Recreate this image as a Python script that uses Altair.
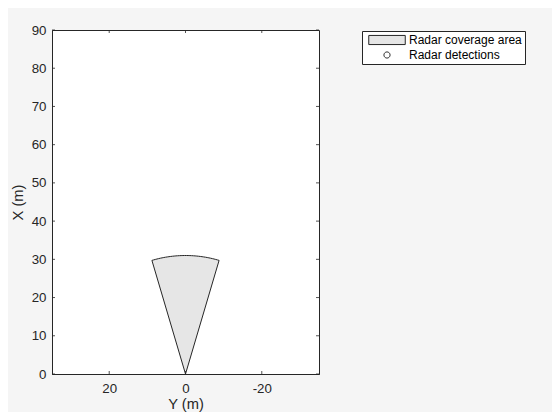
import altair as alt
import numpy as np
import pandas as pd

# Radar coverage parameters
radar_range = 31.0          # m
radar_half_fov_deg = 16.5   # deg
arc_points = 40

# Radar detections (none visible)
det_x = []
det_y = []

legend_names = ["Radar coverage area", "Radar detections"]

y_tick_values = [0, 10, 20, 30, 40, 50, 60, 70, 80, 90]
x_tick_values = [-20, 0, 20]

# build wedge polygon from range / field of view
ang = np.radians(np.linspace(radar_half_fov_deg, -radar_half_fov_deg, arc_points))
wedge_Y = [0.0] + list(radar_range * np.sin(ang)) + [0.0]
wedge_X = [0.0] + list(radar_range * np.cos(ang)) + [0.0]
wedge = pd.DataFrame({"Y": wedge_Y, "X": wedge_X, "i": range(len(wedge_Y))})

W, H = 267, 344
FONT = "Liberation Sans"
INK = "#262626"

xscale = alt.Scale(domain=[-35, 35], reverse=True, nice=False, zero=False)
yscale = alt.Scale(domain=[0, 90], nice=False)

xaxis = alt.Axis(values=x_tick_values, title="Y (m)", labelPadding=7, titlePadding=2,
                 labelOverlap=False, labelExpr="replace(datum.label, '\u2212', '-')")
yaxis = alt.Axis(values=y_tick_values, title="X (m)", labelPadding=6, titlePadding=6,
                 labelOverlap=False)

wedge_layer = alt.Chart(wedge).mark_line(
    fill="#e6e6e6", stroke=INK, strokeWidth=1
).encode(
    x=alt.X("Y:Q", scale=xscale, axis=xaxis),
    y=alt.Y("X:Q", scale=yscale, axis=yaxis),
    order="i:Q",
)

leg = alt.Legend(title=None, symbolStrokeWidth=1,
                 symbolOpacity=1, symbolOffset=16, labelOffset=16)

det_df = pd.DataFrame({"Y": det_y, "X": det_x, "name": [legend_names[1]] * len(det_x)})
det_layer = alt.Chart(alt.Data(values=det_df.to_dict("records"))).mark_point(
    strokeWidth=1, filled=True, opacity=1
).encode(
    x=alt.X("Y:Q", scale=xscale, axis=xaxis),
    y=alt.Y("X:Q", scale=yscale, axis=yaxis),
    shape=alt.Shape(
        "name:N",
        scale=alt.Scale(
            domain=legend_names,
            range=["M-3.65,-0.91H3.65V0.91H-3.65Z",
                   "M0.62,0A0.62,0.62,0,1,1,-0.62,0A0.62,0.62,0,1,1,0.62,0Z"],
        ),
        legend=leg,
    ),
    fill=alt.Fill(
        "name:N",
        scale=alt.Scale(domain=legend_names, range=["#e6e6e6", "#ffffff"]),
        legend=leg,
    ),
    stroke=alt.Stroke(
        "name:N",
        scale=alt.Scale(domain=legend_names, range=[INK, "#333333"]),
        legend=leg,
    ),
)

yt = pd.DataFrame({"v": y_tick_values})
xt = pd.DataFrame({"v": x_tick_values})
tk = 3
ticks_left = alt.Chart(yt).mark_rule(color=INK, strokeWidth=0.8).encode(
    y=alt.Y("v:Q", scale=yscale, axis=yaxis), x=alt.value(0), x2=alt.value(tk))
ticks_right = alt.Chart(yt).mark_rule(color=INK, strokeWidth=0.8).encode(
    y=alt.Y("v:Q", scale=yscale, axis=yaxis), x=alt.value(W - tk), x2=alt.value(W))
ticks_bottom = alt.Chart(xt).mark_rule(color=INK, strokeWidth=0.8).encode(
    x=alt.X("v:Q", scale=xscale, axis=xaxis), y=alt.value(H), y2=alt.value(H - tk))
ticks_top = alt.Chart(xt).mark_rule(color=INK, strokeWidth=0.8).encode(
    x=alt.X("v:Q", scale=xscale, axis=xaxis), y=alt.value(0), y2=alt.value(tk))

chart = alt.layer(
    wedge_layer, ticks_left, ticks_right, ticks_bottom, ticks_top, det_layer
).properties(
    width=W, height=H,
    autosize=alt.AutoSizeParams(type="none"),
    padding={"left": 44, "top": 22, "right": 544 - 44 - W, "bottom": 404 - 22 - H},
    background="#f5f5f5",
).configure_view(
    stroke=INK, strokeWidth=1, fill="white"
).configure_axis(
    grid=False, ticks=False, domainColor=INK, domainWidth=1,
    labelColor=INK, titleColor=INK, labelFont=FONT, titleFont=FONT,
    labelFontSize=13.3, titleFontSize=14.7, titleFontWeight="normal",
).configure_legend(
    orient="none", legendX=310, legendY=1,
    strokeColor=INK, fillColor="white", padding=3, rowPadding=2,
    labelFont=FONT, labelFontSize=12, labelColor="black", cornerRadius=0,
)

chart.save("out.html", embed_options={"renderer": "svg", "actions": False})
